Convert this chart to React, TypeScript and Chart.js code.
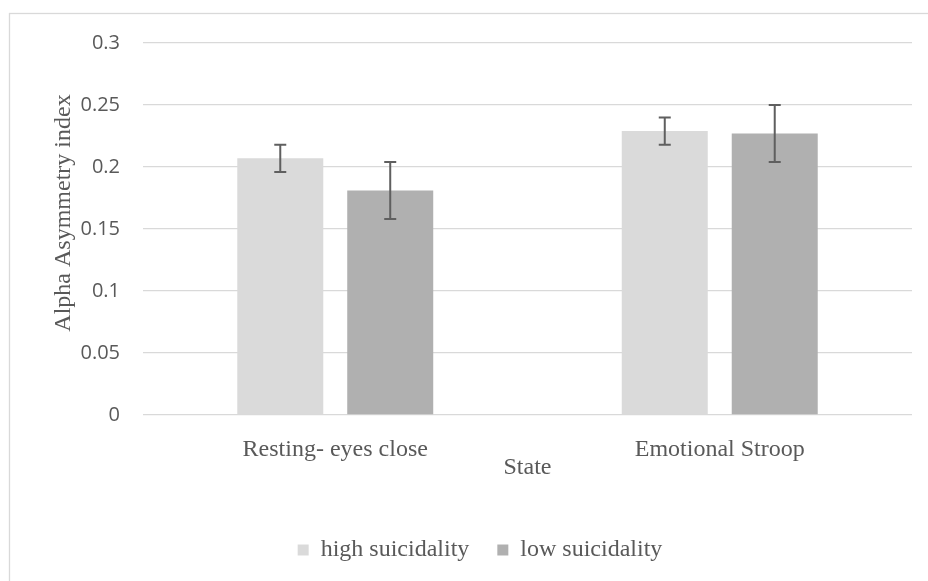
import React, { useEffect, useRef } from "react";
import { Chart, registerables } from "chart.js";

Chart.register(...registerables);

// Mean alpha asymmetry per state and group, with standard-error half-widths
const states = ["Resting- eyes close", "Emotional Stroop"];
const highSuicidality = [0.207, 0.229];
const lowSuicidality = [0.181, 0.227];
const highError = [0.011, 0.011];
const lowError = [0.023, 0.023];
const yTicks = [0, 0.05, 0.1, 0.15, 0.2, 0.25, 0.3];
const yTitle = "Alpha Asymmetry index";
const xTitle = "State";

const SERIF = "'Liberation Serif', 'Times New Roman', serif";
const SANS = "'Open Sans', 'Liberation Sans', sans-serif";
const TEXT = "#595959";
const GRID = "#d9d9d9";

const errorBars = {
  id: "errorBars",
  afterDatasetsDraw(chart: any) {
    const { ctx } = chart;
    const y = chart.scales.y;
    const errs = [highError, lowError];
    chart.data.datasets.forEach((ds: any, di: number) => {
      const meta = chart.getDatasetMeta(di);
      meta.data.forEach((bar: any, i: number) => {
        const v = ds.data[i];
        const e = errs[di][i];
        const top = y.getPixelForValue(v + e);
        const bot = y.getPixelForValue(v - e);
        const x = bar.x;
        ctx.save();
        ctx.strokeStyle = "#5f5f5f";
        ctx.lineWidth = 2;
        ctx.beginPath();
        ctx.moveTo(x, top);
        ctx.lineTo(x, bot);
        ctx.moveTo(x - 6, top);
        ctx.lineTo(x + 6, top);
        ctx.moveTo(x - 6, bot);
        ctx.lineTo(x + 6, bot);
        ctx.stroke();
        ctx.restore();
      });
    });
  },
};

// White background, outer chart frame and the rotated value-axis title
const frame = {
  id: "frame",
  beforeDraw(chart: any) {
    const { ctx, width, height } = chart;
    ctx.save();
    ctx.fillStyle = "#ffffff";
    ctx.fillRect(0, 0, width, height);
    ctx.strokeStyle = GRID;
    ctx.lineWidth = 1.3;
    ctx.strokeRect(9.5, 13.5, width + 20, height + 20);
    ctx.restore();
  },
  afterDraw(chart: any) {
    const { ctx, chartArea } = chart;
    ctx.save();
    ctx.translate(64, (chartArea.top + chartArea.bottom) / 2 - 16);
    ctx.rotate(-Math.PI / 2);
    ctx.fillStyle = TEXT;
    ctx.font = `24px ${SERIF}`;
    ctx.textAlign = "center";
    ctx.textBaseline = "middle";
    ctx.fillText(yTitle, 0, 0);
    ctx.restore();
  },
};

export default function App() {
  const ref = useRef<HTMLCanvasElement>(null);

  useEffect(() => {
    if (!ref.current) return;
    const chart = new Chart(ref.current, {
      type: "bar",
      data: {
        labels: states,
        datasets: [
          {
            label: "high suicidality",
            data: highSuicidality,
            backgroundColor: "#dadada",
            borderWidth: 0,
            categoryPercentage: 0.572,
            barPercentage: 0.782,
          },
          {
            label: "low suicidality",
            data: lowSuicidality,
            backgroundColor: "#b0b0b0",
            borderWidth: 0,
            categoryPercentage: 0.572,
            barPercentage: 0.782,
          },
        ],
      },
      options: {
        responsive: false,
        animation: false,
        layout: { padding: { left: 48, right: 16, top: 43, bottom: 9 } },
        plugins: {
          tooltip: { enabled: false },
          legend: {
            position: "bottom",
            labels: {
              boxWidth: 11,
              boxHeight: 11,
              padding: 28,
              color: TEXT,
              font: { family: SERIF, size: 24 },
            },
          },
        },
        scales: {
          x: {
            grid: { display: false },
            border: { display: false },
            ticks: {
              color: TEXT,
              padding: 12,
              font: { family: SERIF, size: 24 },
            },
            title: {
              display: true,
              text: xTitle,
              color: TEXT,
              font: { family: SERIF, size: 24 },
              padding: { top: 0, bottom: 28 },
            },
            afterFit(scale: any) {
              scale.height = 95;
            },
          },
          y: {
            min: 0,
            max: 0.3,
            afterBuildTicks(scale: any) {
              scale.ticks = yTicks.map((v) => ({ value: v }));
            },
            grid: { color: GRID, lineWidth: 1.3, drawTicks: false },
            border: { display: false },
            ticks: {
              color: TEXT,
              padding: 23,
              font: { family: SANS, size: 20 },
              callback: (v: any) => String(+Number(v).toFixed(2)),
            },
            afterFit(scale: any) {
              scale.width = 95;
            },
          },
        },
      },
      plugins: [frame, errorBars],
    });
    return () => chart.destroy();
  }, []);

  return (
    <div style={{ position: "absolute", left: 0, top: 0, width: 928, height: 581 }}>
      <canvas ref={ref} width={928} height={581} />
    </div>
  );
}
